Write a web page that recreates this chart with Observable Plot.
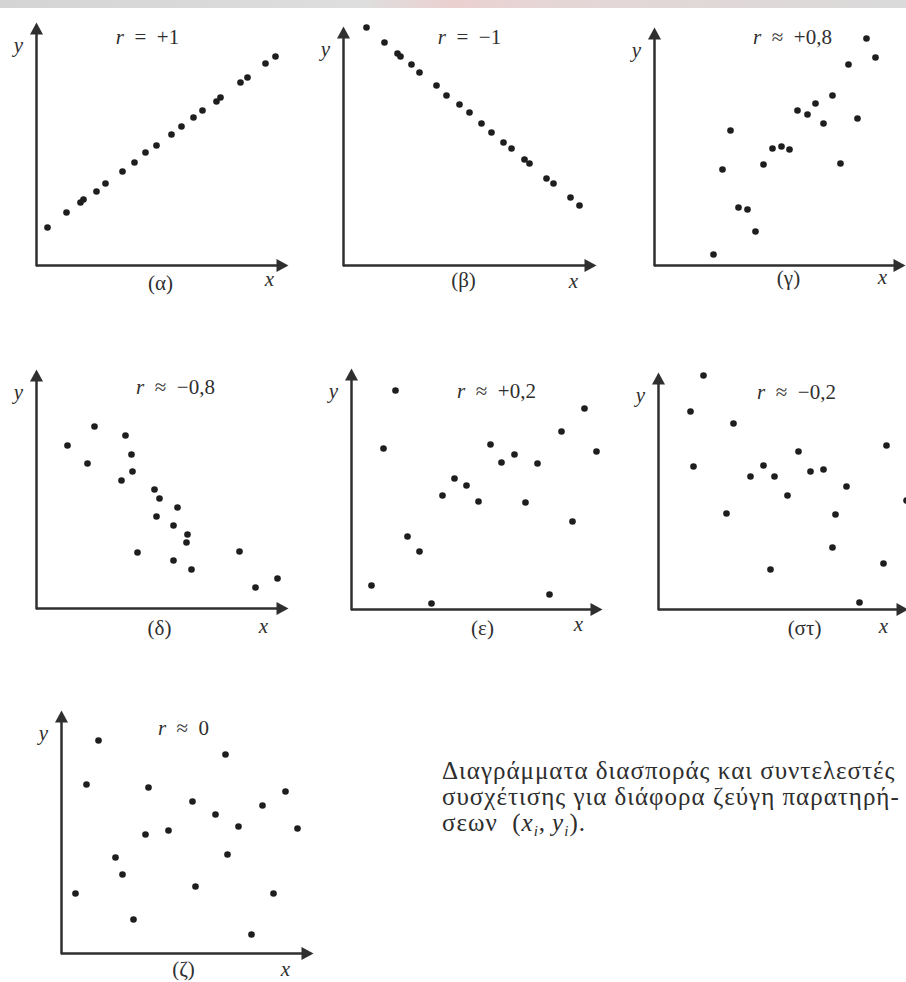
<!DOCTYPE html>
<html><head><meta charset="utf-8">
<script src="https://cdn.jsdelivr.net/npm/d3@7"></script>
<script src="https://cdn.jsdelivr.net/npm/@observablehq/plot@0.6"></script>
<style>
html,body{margin:0;padding:0;background:#fff;}
#page{position:relative;width:906px;height:982px;overflow:hidden;color:#2e2e2e;background:#fff;}
#topband{position:absolute;left:0;top:0;width:906px;height:8px;background:linear-gradient(90deg,#d4d4d4,#dedede 40%,#ecd0d0 50%,#e6d6d6 60%,#dadada);}
.panel{position:absolute;overflow:visible;}
.capline{position:absolute;left:442px;font-size:25px;line-height:26px;white-space:nowrap;}
.capline sub{font-size:0.6em;line-height:0;vertical-align:-0.3em;}
</style></head><body><div id="page"><div id="topband"></div></div>
<script>
// ---------- data (units: x, y along each panel's axes) ----------
const panelLabels = ["(α)", "(β)", "(γ)", "(δ)", "(ε)", "(στ)", "(ζ)"];
const rTexts = ["= +1", "= −1", "≈ +0,8", "≈ −0,8", "≈ +0,2", "≈ −0,2", "≈ 0"];
const captionLines = [
  "Διαγράμματα διασποράς και συντελεστές",
  "συσχέτισης για διάφορα ζεύγη παρατηρή-",
  "σεων&nbsp; (<i>x</i><sub><i>i</i></sub>,&thinsp;<i>y</i><sub><i>i</i></sub>)."
];

const alphaX = [11,30,44,47,60,69,86,98,109,120,135,145,157,166,180,184,204,211,229,239];
const alphaY = [38,53,63,66,74,82,94,103,113,120,131,139,148,155,164,168,183,188,202,209];

const betaX = [23,41,54,57,68,76,93,103,116,126,138,148,160,168,181,186,203,210,227,236];
const betaY = [238,223,212,209,201,193,180,170,161,153,142,133,123,117,106,102,87,82,68,60];

const gammaX = [212,221,194,178,161,143,153,169,203,76,118,127,135,109,186,68,84,93,101,59];
const gammaY = [227,208,201,170,162,155,151,142,147,135,117,119,116,101,102,96,58,56,34,11];

const deltaX = [58,31,51,89,95,96,85,118,123,141,120,137,151,150,101,137,155,203,219,241];
const deltaY = [182,163,145,173,154,137,128,119,110,101,92,83,74,66,56,48,39,57,21,30];

const epsilonX = [44,32,56,68,20,80,91,103,115,127,139,150,163,174,186,198,210,221,233,245];
const epsilonY = [219,161,73,58,24,6,114,131,124,108,165,147,155,107,146,15,178,88,201,158];

const stX = [45,32,75,35,140,105,92,116,152,165,129,188,68,177,228,248,174,112,225,201];
const stY = [234,198,186,143,158,144,133,133,138,140,114,123,96,95,164,109,62,40,46,7];

const zetaX = [37,25,87,164,131,154,201,224,177,236,107,84,54,61,166,14,134,212,72,190];
const zetaY = [213,169,166,199,152,139,148,162,127,125,123,119,96,79,99,60,67,60,34,19];

const seriesX = [alphaX, betaX, gammaX, deltaX, epsilonX, stX, zetaX];
const seriesY = [alphaY, betaY, gammaY, deltaY, epsilonY, stY, zetaY];
const axisMaxX = [252, 253, 251, 252, 251, 250, 252];
const axisMaxY = [243, 239, 238, 239, 241, 237, 243];

// ---------- font: pick an installed serif face if any ----------
function hasFont(name) {
  const c = document.createElement("canvas").getContext("2d");
  const s = "Διαγράμματα mmmwwwiiil 0123 ABC";
  for (const base of ["monospace", "sans-serif"]) {
    c.font = `40px ${base}`;
    const w0 = c.measureText(s).width;
    c.font = `40px "${name}", ${base}`;
    if (Math.abs(c.measureText(s).width - w0) > 0.5) return true;
  }
  return false;
}
const candidates = ["Liberation Serif", "Tinos", "Times New Roman", "DejaVu Serif", "Noto Serif", "FreeSerif", "Nimbus Roman", "Times"];
const font = candidates.find(hasFont) || "Open Sans";
const fontCss = `"${font}", "Open Sans", "Noto Sans", sans-serif`;

// ---------- layout (page placement of each panel and its labels) ----------
const layout = [
  {ox: 36,  oy: 265, r: [111, 15], lab: [124, 18], xl: [-19, 14]},
  {ox: 343, oy: 265, r: [126, 11], lab: [120, 15], xl: [-23, 16]},
  {ox: 654, oy: 265, r: [138, 10], lab: [134, 13], xl: [-23, 12]},
  {ox: 36,  oy: 608, r: [139, 18], lab: [123, 20], xl: [-25, 18]},
  {ox: 351, oy: 609, r: [145, 23], lab: [131, 19], xl: [-24, 15]},
  {ox: 658, oy: 609, r: [138, 20], lab: [146, 19], xl: [-25, 17]},
  {ox: 61,  oy: 953, r: [122, 18], lab: [122, 16], xl: [-28, 16]}
];

const ink = "#2f2f2f";
const dotInk = "#1e1e1e";
const fs = 21;
const mL = 30, mT = 12, mR = 16, mB = 36;

const triUp = {draw(ctx) { ctx.moveTo(0, 0); ctx.lineTo(-6.5, 12); ctx.lineTo(6.5, 12); ctx.closePath(); }};
const triRight = {draw(ctx) { ctx.moveTo(0, 0); ctx.lineTo(-12, -6.5); ctx.lineTo(-12, 6.5); ctx.closePath(); }};

const page = document.getElementById("page");
page.style.fontFamily = fontCss;

const txt = {textAnchor: "middle", lineAnchor: "middle", fontSize: fs, fill: ink};

seriesX.forEach((xs, i) => {
  const ys = seriesY[i];
  const W = axisMaxX[i], H = axisMaxY[i];
  const L = layout[i];
  const pts = xs.map((x, k) => ({x, y: ys[k]}));
  const rFull = "r\u2002" + rTexts[i].replace(" ", "\u2002");
  const svg = Plot.plot({
    width: mL + W + mR,
    height: mT + H + mB,
    marginLeft: mL, marginTop: mT, marginRight: mR, marginBottom: mB,
    x: {domain: [0, W], axis: null},
    y: {domain: [0, H], axis: null},
    style: {background: "transparent", overflow: "visible", fontFamily: fontCss},
    marks: [
      Plot.ruleY([0], {x1: 0, x2: W - 8, stroke: ink, strokeWidth: 2.5}),
      Plot.ruleX([0], {y1: 0, y2: H - 8, stroke: ink, strokeWidth: 2.5, strokeLinecap: "square"}),
      Plot.dot([{x: W, y: 0}], {x: "x", y: "y", symbol: triRight, fill: ink, stroke: "none"}),
      Plot.dot([{x: 0, y: H}], {x: "x", y: "y", symbol: triUp, fill: ink, stroke: "none"}),
      Plot.dot(pts, {x: "x", y: "y", r: 3.3, fill: dotInk, stroke: "none"}),
      Plot.text(["y"], {...txt, text: d => d, frameAnchor: "top-left", dx: -18, dy: 23, fontStyle: "italic"}),
      Plot.text(["x"], {...txt, text: d => d, frameAnchor: "bottom-right", dx: L.xl[0], dy: L.xl[1], fontStyle: "italic"}),
      Plot.text([panelLabels[i]], {...txt, text: d => d, frameAnchor: "bottom-left", dx: L.lab[0], dy: L.lab[1]}),
      Plot.text([rFull], {...txt, text: d => d, frameAnchor: "top-left", dx: L.r[0], dy: L.r[1]})
    ]
  });
  d3.select(svg).selectAll("text").filter(function() { return this.textContent === rFull; }).each(function() {
    const t = d3.select(this);
    t.text(null);
    t.append("tspan").attr("font-style", "italic").text("r");
    t.append("tspan").text(rFull.slice(1));
  });
  svg.classList.add("panel");
  svg.style.left = (L.ox - mL) + "px";
  svg.style.top = (L.oy - H - mT) + "px";
  page.appendChild(svg);
});

// caption: three lines, the first two justified to the same right edge
const capTop = 758, capLead = 26, capRight = 900, capLeft = 442;
let spacing = 0;
captionLines.forEach((html, k) => {
  const d = document.createElement("div");
  d.className = "capline";
  d.style.top = (capTop + k * capLead) + "px";
  d.innerHTML = html;
  page.appendChild(d);
  const n = d.textContent.length;
  if (k < 2) {
    const w = d.getBoundingClientRect().width;
    spacing = Math.min(1.0, Math.max(0, (capRight - capLeft - w) / Math.max(1, n - 1)));
  }
  d.style.letterSpacing = spacing.toFixed(2) + "px";
});
</script>
</body></html>
